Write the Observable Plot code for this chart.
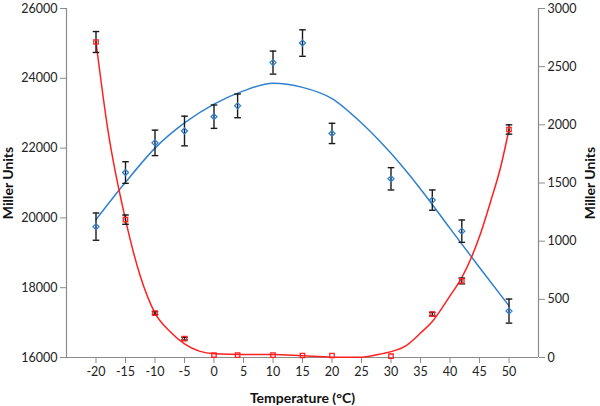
<!DOCTYPE html>
<html><head><meta charset="utf-8">
<script src="https://cdn.jsdelivr.net/npm/d3@7"></script>
<script src="https://cdn.jsdelivr.net/npm/@observablehq/plot@0.6"></script>
<style>
html,body{margin:0;padding:0;background:#fff;}
#chart svg{display:block;}
</style></head><body><div id="chart"></div>
<script>
// Measured temperatures (°C)
const temps = [-20, -15, -10, -5, 0, 4, 10, 15, 20, 30, 37, 42, 50];
// Blue series (left axis, Miller Units)
const blueValues = [19750, 21300, 22150, 22490, 22900, 23210, 24450, 25010, 22420, 21120, 20510, 19620, 17330];
const blueErr    = [390, 310, 365, 425, 335, 340, 330, 380, 290, 320, 290, 320, 345];
// Red series (right axis, Miller Units)
const redValues = [2712, 1185, 382, 162, 21, 20, 20, 17, 17, 11, 373, 658, 1960];
const redErr    = [90, 40, 12, 12, 0, 0, 0, 0, 0, 0, 15, 25, 40];
// Trend curves
const blueCurveX = [-20, -15, -10, -5, 0, 5, 10, 15, 20, 25, 30, 35, 40, 45, 50];
const blueCurveY = [19950, 21020, 22000, 22720, 23260, 23640, 23860, 23740, 23420, 22720, 21850, 20830, 19700, 18580, 17480];
const redCurveX = [-20, -18, -15, -12.5, -10, -7.5, -5, -2.5, 0, 5, 10, 15, 20, 25, 28, 32.5, 35, 37, 40, 42, 45, 47, 48.5, 50];
const redCurveY = [2712, 1960, 1185, 700, 382, 225, 117, 55, 32, 26, 26, 15, 3, 3, 28, 100, 210, 310, 530, 686, 1040, 1360, 1620, 1960];
// Axis ticks
const xTicks = [-20, -15, -10, -5, 0, 5, 10, 15, 20, 25, 30, 35, 40, 45, 50];
const leftTicks = [16000, 18000, 20000, 22000, 24000, 26000];
const rightTicks = [0, 500, 1000, 1500, 2000, 2500, 3000];

const xDomain = [-25, 55];
const leftDomain = [16000, 26000];
const rightDomain = [0, 3000];
const toLeft = v => leftDomain[0] + (v - rightDomain[0]) * (leftDomain[1] - leftDomain[0]) / (rightDomain[1] - rightDomain[0]);
const fromLeft = v => rightDomain[0] + (v - leftDomain[0]) * (rightDomain[1] - rightDomain[0]) / (leftDomain[1] - leftDomain[0]);

const blue = temps.map((t, i) => ({t, v: blueValues[i], lo: blueValues[i] - blueErr[i], hi: blueValues[i] + blueErr[i], e: blueErr[i]}));
const red = temps.map((t, i) => ({t, v: toLeft(redValues[i]), lo: toLeft(redValues[i] - redErr[i]), hi: toLeft(redValues[i] + redErr[i]), e: redErr[i]}));
const blueCurve = blueCurveX.map((x, i) => ({x, y: blueCurveY[i]}));
const redCurve = redCurveX.map((x, i) => ({x, y: toLeft(redCurveY[i])}));

const BLUE = "#2f80cf", RED = "#ff2020", AXIS = "#8c8c8c", BAR = "#1a1a1a";
const cap = {draw(ctx, size) { const w = Math.sqrt(size / Math.PI); ctx.moveTo(-w, 0); ctx.lineTo(w, 0); }};

function errorMarks(data) {
  const d = data.filter(r => r.e > 0);
  return [
    Plot.ruleX(d, {x: "t", y1: "lo", y2: "hi", stroke: BAR, strokeWidth: 1.4}),
    Plot.dot(d, {x: "t", y: "lo", symbol: cap, r: 3.3, stroke: BAR, strokeWidth: 1.4, fill: "none"}),
    Plot.dot(d, {x: "t", y: "hi", symbol: cap, r: 3.3, stroke: BAR, strokeWidth: 1.4, fill: "none"})
  ];
}

const chart = Plot.plot({
  width: 600, height: 406,
  marginLeft: 66, marginRight: 62, marginTop: 8, marginBottom: 49,
  x: {type: "linear", domain: xDomain},
  y: {type: "linear", domain: leftDomain},
  style: {fontFamily: "Lato, 'Open Sans', sans-serif", fontSize: "12.5px", color: "#222", background: "#fff"},
  marks: [
    Plot.axisX({ticks: xTicks, tickSize: 6, tickPadding: 4, label: null, tickFormat: d => String(d), stroke: AXIS}),
    Plot.axisY({anchor: "left", ticks: leftTicks, tickSize: 6, tickPadding: 3, label: null, tickFormat: d => String(d), stroke: AXIS}),
    Plot.axisY({anchor: "right", ticks: rightTicks.map(toLeft), tickSize: 6, tickPadding: 3, label: null, tickFormat: d => String(Math.round(fromLeft(d))), stroke: AXIS}),
    Plot.ruleX([xDomain[0]], {stroke: AXIS, strokeWidth: 1.2}),
    Plot.ruleX([xDomain[1]], {stroke: AXIS, strokeWidth: 1.2}),
    Plot.ruleY([leftDomain[0]], {stroke: AXIS, strokeWidth: 1.2}),
    Plot.line(blueCurve, {x: "x", y: "y", stroke: BLUE, strokeWidth: 1.5, curve: "monotone-x"}),
    Plot.line(redCurve, {x: "x", y: "y", stroke: RED, strokeWidth: 1.5, curve: "monotone-x"}),
    ...errorMarks(blue),
    ...errorMarks(red),
    Plot.dot(blue, {x: "t", y: "v", symbol: "diamond2", r: 2.7, stroke: BLUE, strokeWidth: 1.3, fill: "none"}),
    Plot.dot(red, {x: "t", y: "v", symbol: "square2", r: 2.8, stroke: RED, strokeWidth: 1.3, fill: "none"}),
    Plot.text(["Miller Units"], {frameAnchor: "left", dx: -58, rotate: -90, textAnchor: "middle", fontWeight: "bold", fontSize: 14, fill: "#111"}),
    Plot.text(["Miller Units"], {frameAnchor: "right", dx: 52, rotate: -90, textAnchor: "middle", fontWeight: "bold", fontSize: 14, fill: "#111"}),
    Plot.text(["Temperature (°C)"], {frameAnchor: "bottom", dy: 41, textAnchor: "middle", lineAnchor: "middle", fontWeight: "bold", fontSize: 14, fill: "#111"})
  ]
});
document.getElementById("chart").appendChild(chart);
</script>
</body></html>
